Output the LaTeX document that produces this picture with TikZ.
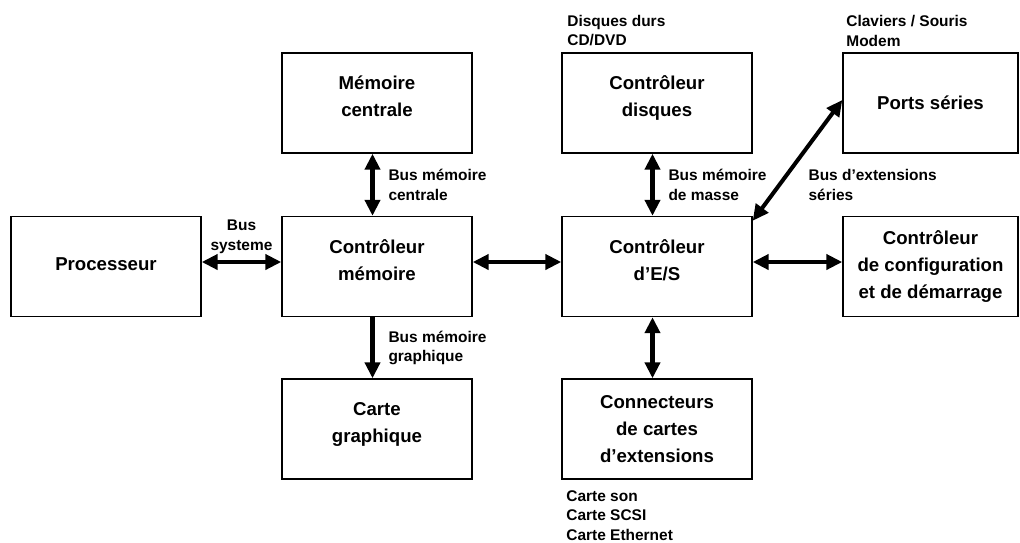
\documentclass[tikz,border=0pt]{standalone}
\usepackage{fontspec}
\setmainfont{Liberation Sans}
\usetikzlibrary{arrows.meta,positioning}

\newcommand{\lowstrut}{\rule[-0.26cm]{0pt}{0pt}}

\begin{document}
\begin{tikzpicture}
    [
      unit/.style={draw, thick, minimum width=3.8cm, minimum height=2cm, align=center, font=\bfseries\fontsize{10.6}{15.4}\selectfont},
      narrow/.style={unit, minimum width=3.5cm},
      lab/.style={inner sep=1pt, align=left, font=\bfseries\fontsize{8.8}{11}\selectfont},
      post/.style={<->, >={Triangle[length=0.32cm,width=0.3cm]}, line width=2.3pt},
      down/.style={post, ->},
    ]
    \useasboundingbox (0,0) rectangle (20.4,-10.84);

    \node (proc) [unit] at (2.12, -5.33) {Processeur\rule[-0.1cm]{0pt}{0pt}};
    \node (ctrlmem) [unit] at (7.54, -5.33) {Contrôleur\\mémoire\lowstrut};
    \node (memc) [unit] at (7.54, -2.06) {Mémoire\\centrale\lowstrut};
    \node (graph) [unit] at (7.54, -8.58) {Carte\\graphique\lowstrut};
    \node (ctrles) [unit] at (13.14, -5.33) {Contrôleur\\d’E/S\lowstrut};
    \node (disk) [unit] at (13.14, -2.06) {Contrôleur\\disques\lowstrut};
    \node (conn) [unit] at (13.14, -8.58) {Connecteurs\\de cartes\\d’extensions};
    \node (ports) [narrow] at (18.61, -2.06) {Ports séries};
    \node (config) [narrow] at (18.61, -5.33) {Contrôleur\\de configuration\\et de démarrage};

    \node (ldisk) [lab, above right=0.08cm and 0.08cm of disk.north west] {Disques durs\\CD/DVD};
    \node (lports) [lab, above right=0.08cm and 0.04cm of ports.north west] {Claviers / Souris\\Modem};
    \node (lconn) [lab, below right=0.18cm and 0.06cm of conn.south west] {Carte son\\Carte SCSI\\Carte Ethernet};
    \node (lext) [lab, anchor=west] at (16.13, -3.7) {Bus d’extensions\\séries};

    \path
    ([yshift=0.09cm]proc.east) edge [post] node [lab, align=center, above=0.1cm] (lsys) {Bus\\systeme} ([yshift=0.09cm]ctrlmem.west)
    ([yshift=0.09cm]ctrlmem.east) edge [post] ([yshift=0.09cm]ctrles.west)
    ([yshift=0.09cm]ctrles.east) edge [post] ([yshift=0.09cm]config.west)
    ([xshift=-0.09cm]memc.south) edge [post] node [lab, right=0.245cm] (lmem) {Bus mémoire\\centrale} ([xshift=-0.09cm]ctrlmem.north)
    ([xshift=-0.09cm]ctrlmem.south) edge [down] node [lab, right=0.245cm] (lgraph) {Bus mémoire\\graphique} ([xshift=-0.09cm]graph.north)
    ([xshift=-0.09cm]disk.south) edge [post] node [lab, right=0.245cm] (lmasse) {Bus mémoire\\de masse} ([xshift=-0.09cm]ctrles.north)
    ([xshift=-0.09cm]ctrles.south) edge [post] ([xshift=-0.09cm]conn.north)
    ([yshift=-0.1cm]ctrles.north east) edge [post] ([yshift=0.06cm]ports.west)
    ;

\end{tikzpicture}
\end{document}
